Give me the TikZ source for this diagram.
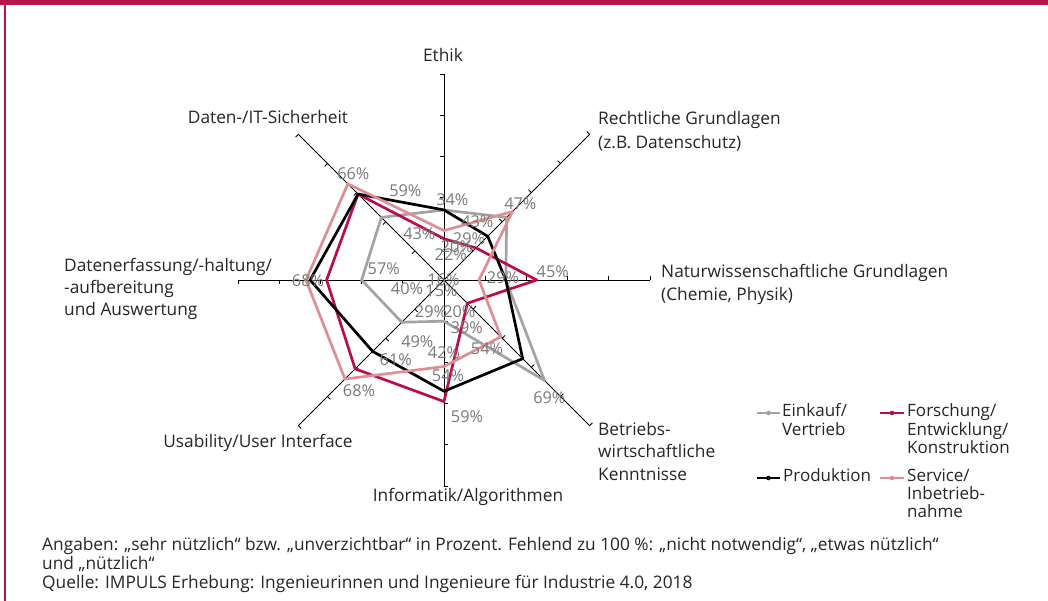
\documentclass[tikz,border=0pt]{standalone}
\usepackage{fontspec}
\setmainfont{Open Sans}
\usetikzlibrary{calc}

\definecolor{brand}{HTML}{B8144F}
\definecolor{seriesred}{HTML}{BE0B4D}
\definecolor{seriespink}{HTML}{DF8E93}
\definecolor{seriesgray}{HTML}{A3A3A3}
\definecolor{valuegray}{HTML}{7A7A7A}
\definecolor{textdark}{HTML}{262626}

\tikzset{
  axisline/.style={black, line width=0.9pt},
  serie/.style={line width=2.7pt, line join=round},
  val/.style={text=valuegray, font=\fontsize{16.3}{18}\selectfont, inner sep=0pt, anchor=center},
  axlab/.style={text=textdark, font=\fontsize{17.3}{20}\selectfont, inner sep=0pt, anchor=base west},
  axlabc/.style={axlab, anchor=base},
  legtext/.style={text=textdark, font=\fontsize{17}{20}\selectfont, inner sep=0pt, anchor=base west},
  legline/.style={line width=2pt},
  legdot/.style={circle, inner sep=0pt, minimum size=4.6pt},
  foot/.style={text=textdark, font=\fontsize{17.3}{20}\selectfont, inner sep=0pt, anchor=base west},
}

% 1% on the radar = 2.06pt
\def\unitr{2.06pt}

\begin{document}
\begin{tikzpicture}[x=1pt,y=-1pt]
\useasboundingbox (0,0) rectangle (1048,601);
\fill[white] (0,0) rectangle (1048,601);

% frame: bar on top, rule on the left
\fill[brand] (0,0) rectangle (1048,5.5);
\draw[brand, line width=2pt] (5,5) -- (5,601);

% radar chart
\begin{scope}[shift={(444,280)}]
  \coordinate (c) at (0,0);
  \foreach \i in {0,...,7}{
    \pgfmathsetmacro\ang{90-45*\i}
    \coordinate (ax\i) at (\ang:206pt);
    \draw[axisline] (c) -- (ax\i);
    \foreach \k in {1,...,5}{
      \draw[axisline] (\ang:{\k*41.2pt}) -- ++({\ang+90}:4pt);
    }
  }

  % Einkauf/Vertrieb
  \foreach \v [count=\j from 0] in {34,43,30,69,20,29,40,43}
    \coordinate (g\j) at ({90-45*\j}:{\v*\unitr});
  % Forschung/Entwicklung/Konstruktion
  \foreach \v [count=\j from 0] in {20,22,45,16,59,61,57,59}
    \coordinate (r\j) at ({90-45*\j}:{\v*\unitr});
  % Produktion
  \foreach \v [count=\j from 0] in {34,30,30,54,54,49,65,59}
    \coordinate (b\j) at ({90-45*\j}:{\v*\unitr});
  % Service/Inbetriebnahme
  \foreach \v [count=\j from 0] in {24,47,17,39,42,68,67,66}
    \coordinate (p\j) at ({90-45*\j}:{\v*\unitr});

  \draw[serie, seriesgray] (g0)--(g1)--(g2)--(g3)--(g4)--(g5)--(g6)--(g7)--cycle;
  \draw[serie, seriesred]  (r0)--(r1)--(r2)--(r3)--(r4)--(r5)--(r6)--(r7)--cycle;
  \draw[serie, black]      (b0)--(b1)--(b2)--(b3)--(b4)--(b5)--(b6)--(b7)--cycle;
  \draw[serie, seriespink] (p0)--(p1)--(p2)--(p3)--(p4)--(p5)--(p6)--(p7)--cycle;
\end{scope}

% value labels
\node[val] (v1)  at (353.3,174)   {66\%};
\node[val] (v2)  at (405.3,191)   {59\%};
\node[val] (v3)  at (452.3,200)   {34\%};
\node[val] (v4)  at (520.3,203.3) {47\%};
\node[val] (v5)  at (419.3,233.3) {43\%};
\node[val] (v6)  at (477.3,221.7) {43\%};
\node[val] (v7)  at (469,238.3)   {29\%};
\node[val] (v8)  at (456.7,246.7) {20\%};
\node[val] (v9)  at (450.7,255)   {22\%};
\node[val] (v10) at (552.7,271.3) {45\%};
\node[val] (v11) at (383.7,268.3) {57\%};
\node[val] (v12) at (308,280.7)   {68\%};
\node[val] (v13) at (443.5,279.5) {16\%};
\node[val] (v14) at (503,277.5)   {29\%};
\node[val] (v15) at (407,288.7)   {40\%};
\node[val] (v16) at (441.5,290.7) {15\%};
\node[val] (v17) at (431,311.7)   {29\%};
\node[val] (v18) at (459.3,311.7) {20\%};
\node[val] (v19) at (466.8,327.5) {39\%};
\node[val] (v20) at (417.3,341.7) {49\%};
\node[val] (v21) at (487,348.3)   {54\%};
\node[val] (v22) at (444,352.3)   {42\%};
\node[val] (v23) at (395.7,359.7) {61\%};
\node[val] (v24) at (448,375.3)   {54\%};
\node[val] (v25) at (359,390.3)   {68\%};
\node[val] (v26) at (549.3,397.7) {69\%};
\node[val] (v27) at (467,417)     {59\%};

% axis titles
\node[axlabc] (t0) at (443,62) {Ethik};
\node[axlab] (t1a) at (598,125) {Rechtliche Grundlagen};
\node[axlab] (t1b) at (598,149) {(z.B. Datenschutz)};
\node[axlab] (t2a) at (661,277) {Naturwissenschaftliche Grundlagen};
\node[axlab] (t2b) at (661,300) {(Chemie, Physik)};
\node[axlab] (t3a) at (598,435) {Betriebs-};
\node[axlab] (t3b) at (598,457) {wirtschaftliche};
\node[axlab] (t3c) at (598,480) {Kenntnisse};
\node[axlabc] (t4) at (468,501) {Informatik/Algorithmen};
\node[axlabc] (t5) at (258,447) {Usability/User Interface};
\node[axlab] (t6a) at (64,272) {Datenerfassung/-haltung/};
\node[axlab] (t6b) at (64,294) {-aufbereitung};
\node[axlab] (t6c) at (64,316) {und Auswertung};
\node[axlabc] (t7) at (268,124) {Daten-/IT-Sicherheit};

% legend
\coordinate (la1) at (757,413); \coordinate (la2) at (780,413);
\draw[legline, seriesgray] (la1) -- (la2);
\node[legdot, fill=seriesgray] (ld1) at (768.5,413) {};
\node[legtext] (lt1a) at (782,416.7) {Einkauf/};
\node[legtext] (lt1b) at (782,435)   {Vertrieb};

\coordinate (lb1) at (880,413); \coordinate (lb2) at (904,413);
\draw[legline, seriesred] (lb1) -- (lb2);
\node[legdot, fill=seriesred] (ld2) at (892,413) {};
\node[legtext] (lt2a) at (907,416.7) {Forschung/};
\node[legtext] (lt2b) at (907,435)   {Entwicklung/};
\node[legtext] (lt2c) at (907,453.3) {Konstruktion};

\coordinate (lc1) at (757,478); \coordinate (lc2) at (780,478);
\draw[legline, black] (lc1) -- (lc2);
\node[legdot, fill=black] (ld3) at (768.5,478) {};
\node[legtext] (lt3a) at (783,481) {Produktion};

\coordinate (ld1a) at (880,478); \coordinate (ld2a) at (904,478);
\draw[legline, seriespink] (ld1a) -- (ld2a);
\node[legdot, fill=seriespink] (ld4) at (892,478) {};
\node[legtext] (lt4a) at (907,481)   {Service/};
\node[legtext] (lt4b) at (907,499)   {Inbetrieb-};
\node[legtext] (lt4c) at (907,517.3) {nahme};

% notes
\node[foot] (f1) at (42,550) {Angaben: „sehr nützlich“ bzw. „unverzichtbar“ in Prozent. Fehlend zu 100 \%: „nicht notwendig“, „etwas nützlich“};
\node[foot] (f2) at (42,569) {und „nützlich“};
\node[foot] (f3) at (42,588) {Quelle: IMPULS Erhebung: Ingenieurinnen und Ingenieure für Industrie 4.0, 2018};
\end{tikzpicture}
\end{document}
